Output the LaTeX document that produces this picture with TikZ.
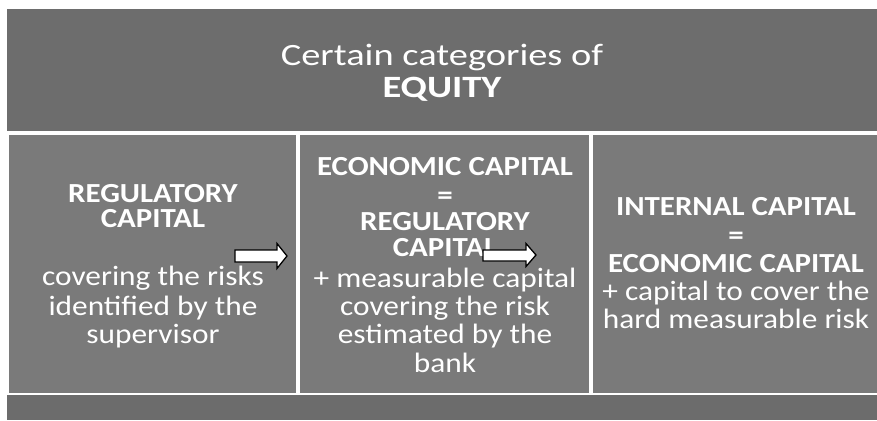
\documentclass[tikz,border=0pt]{standalone}
\usepackage{fontspec}
\setmainfont{Carlito}[FakeStretch=1.12]
\newfontfamily\ttlfont{Carlito}[FakeStretch=1.24]
\definecolor{topgray}{HTML}{6D6D6D}
\definecolor{boxgray}{HTML}{7A7A7A}
\definecolor{botgray}{HTML}{6C6C6C}
\begin{document}
\begin{tikzpicture}[x=1pt,y=-1pt,
  panel/.style={fill=#1,draw=none},
  reg/.style={anchor=base,inner sep=0pt,text=white,font=\fontsize{28}{30}\selectfont},
  hd/.style={anchor=base,inner sep=0pt,text=white,font=\fontsize{27.6}{29}\selectfont\bfseries},
  ttl/.style={anchor=base,inner sep=0pt,text=white,font=\ttlfont\fontsize{31}{33}\selectfont},
  blockarrow/.style={draw=black,fill=white,line width=1.3pt,line join=miter}]
\useasboundingbox (0,0) rectangle (877,420);
\fill[white] (0,0) rectangle (877,420);
% panels
\path[panel=topgray] (7,9) rectangle (877,131);
\path[panel=boxgray] (9,135) rectangle (296,393);
\path[panel=boxgray] (300,135) rectangle (589,393);
\path[panel=boxgray] (593,135) rectangle (877,393);
\path[panel=botgray] (7,395) rectangle (877,420);
% title
\node[ttl] (t1) at (442,65) {Certain categories of};
\node[ttl,font=\ttlfont\fontsize{31}{33}\selectfont\bfseries] (t2) at (442,97) {EQUITY};
% box 1
\node[hd] (a1) at (153,202) {REGULATORY};
\node[hd] (a2) at (153,227) {CAPITAL};
\node[reg] (a3) at (153,285) {covering the risks};
\node[reg] (a4) at (153,315) {identified by the};
\node[reg] (a5) at (153,343) {supervisor};
% box 2
\node[hd] (b1) at (445,175) {ECONOMIC CAPITAL};
\node[hd] (b2) at (445,204) {=};
\node[hd] (b3) at (445,230) {REGULATORY};
\node[hd] (b4) at (445,256) {CAPITAL};
\node[reg] (b5) at (445,287) {+ measurable capital};
\node[reg] (b6) at (445,315) {covering the risk};
\node[reg] (b7) at (445,343) {estimated by the};
\node[reg] (b8) at (445,372) {bank};
% box 3
\node[hd] (c1) at (736,215) {INTERNAL CAPITAL};
\node[hd] (c2) at (736,244) {=};
\node[hd] (c3) at (736,272) {ECONOMIC CAPITAL};
\node[reg] (c4) at (736,300) {+ capital to cover the};
\node[reg] (c5) at (736,328) {hard measurable risk};
% block arrows
\coordinate (ar1) at (235,256);
\coordinate (ar2) at (483,256);
\draw[blockarrow] (ar1) ++(0,-6) -- ++(42,0) -- ++(0,-6.5) -- ++(10,12.5)
  -- ++(-10,12.5) -- ++(0,-6.5) -- ++(-42,0) -- cycle;
\draw[blockarrow] (ar2) ++(0,-6) -- ++(43,0) -- ++(0,-6.5) -- ++(10,11.5)
  -- ++(-10,11.5) -- ++(0,-5.5) -- ++(-43,0) -- cycle;
\end{tikzpicture}
\end{document}
